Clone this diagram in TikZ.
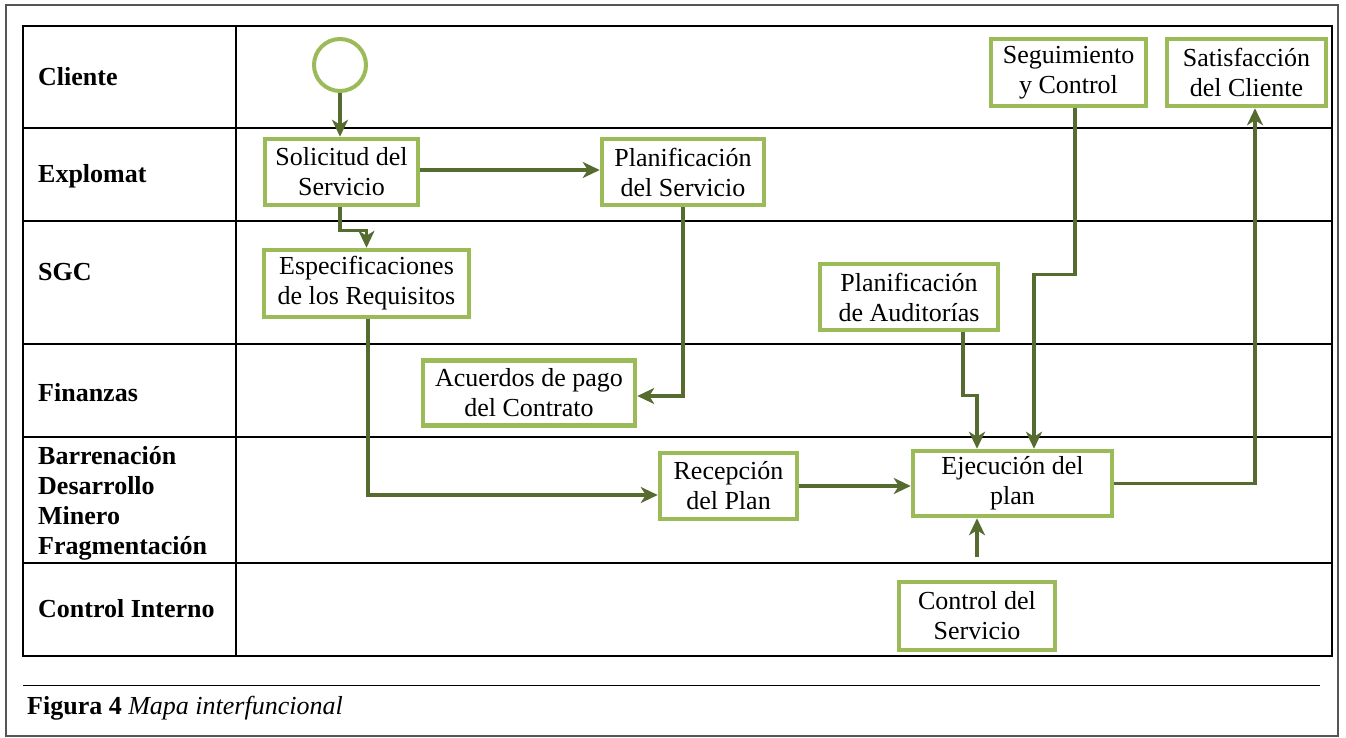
\documentclass[tikz,border=0pt]{standalone}
\usepackage{fontspec}
\setmainfont{Liberation Serif}
\usetikzlibrary{arrows.meta}
\definecolor{boxgreen}{HTML}{9BBB59}
\definecolor{linegreen}{HTML}{556B2F}
\definecolor{framegray}{HTML}{555555}
\tikzset{
  proc/.style={draw=boxgreen, line width=4.5pt, fill=white, align=center,
    font=\fontsize{26}{30}\selectfont, inner sep=0pt},
  startnode/.style={circle, draw=boxgreen, line width=4pt, fill=white,
    minimum size=52pt, inner sep=0pt},
  flow/.style={draw=linegreen, line width=3.5pt,
    -{Stealth[length=17pt,width=16pt,inset=5pt]}},
  laneline/.style={black, line width=2pt},
  lanelabel/.style={anchor=base west, align=left,
    font=\fontsize{26}{30}\selectfont\bfseries, inner sep=0pt},
}
\begin{document}
\begin{tikzpicture}[x=1pt,y=-1pt]
\useasboundingbox (0,0) rectangle (1346,738);
% outer frame
\draw[framegray, line width=1.5pt] (6,5) rectangle (1338,736);
% table
\draw[laneline] (23,26) rectangle (1332,656);
\draw[laneline] (236,26) -- (236,656);
\foreach \yy in {128,221,344,437,563}
  \draw[laneline] (23,\yy) -- (1332,\yy);
% lane labels
\node[lanelabel] (lcli) at (38,86) {Cliente};
\node[lanelabel] (lexp) at (38,183) {Explomat};
\node[lanelabel] (lsgc) at (38,280) {SGC};
\node[lanelabel] (lfin) at (38,401) {Finanzas};
\node[lanelabel, anchor=west] (lbar) at (38,503) {Barrenación\\Desarrollo\\Minero\\Fragmentación};
\node[lanelabel] (lcon) at (38,617) {Control Interno};
% caption
\draw[black, line width=1pt] (23,685) -- (1320,685);
\node[anchor=base west, inner sep=0pt, font=\fontsize{26}{30}\selectfont] (cap) at (27,714)
  {\textbf{Figura 4} \textit{Mapa interfuncional}};
% nodes
\node[startnode] (start) at (340,65) {};
\node[proc, minimum width=153pt, minimum height=66pt] (sol) at (341.5,172) {Solicitud del\\Servicio};
\node[proc, minimum width=162pt, minimum height=66pt] (plan) at (683,172) {Planificación\\del Servicio};
\node[proc, minimum width=205pt, minimum height=67pt] (spec) at (366.5,283.5) {Especificaciones\\de los Requisitos};
\node[proc, minimum width=212pt, minimum height=65pt] (acu) at (529,393) {Acuerdos de pago\\del Contrato};
\node[proc, minimum width=137pt, minimum height=66pt] (rec) at (728.5,486) {Recepción\\del Plan};
\node[proc, minimum width=178pt, minimum height=66pt] (aud) at (909,297) {Planificación\\de Auditorías};
\node[proc, minimum width=199pt, minimum height=65pt] (eje) at (1012.5,483.5) {Ejecución del\\plan};
\node[proc, minimum width=156pt, minimum height=68pt] (ctl) at (977,616) {Control del\\Servicio};
\node[proc, minimum width=155pt, minimum height=67pt] (seg) at (1068.5,72.5) {Seguimiento\\y Control};
\node[proc, minimum width=159pt, minimum height=67pt] (sat) at (1246.5,72.5) {Satisfacción\\del Cliente};
\coordinate (ctltop) at (977,557);
% connectors
\draw[flow] (start.south) -- (start.south |- sol.north);
\draw[flow] ([yshift=2pt]sol.east) -- ([yshift=2pt]sol.east -| plan.west);
\draw[flow] ([xshift=-1.5pt]sol.south) -- ++(0,23) -| (spec.north);
\draw[flow] (plan.south) |- ([yshift=-3pt]acu.east);
\draw[flow] ([xshift=1.5pt]spec.south) |- ([yshift=-9pt]rec.west);
\draw[flow] (rec.east) -- (rec.east -| eje.west);
\draw[flow] ([xshift=54pt]aud.south) -- ++(0,63) -| ([xshift=-35.5pt]eje.north);
\draw[flow] ([xshift=6.5pt]seg.south) -- ++(0,166) -| ([xshift=21.5pt]eje.north);
\draw[flow] (eje.east) -| ([xshift=8.5pt]sat.south);
\draw[flow] (ctltop) -- (ctltop |- eje.south);
\end{tikzpicture}
\end{document}
